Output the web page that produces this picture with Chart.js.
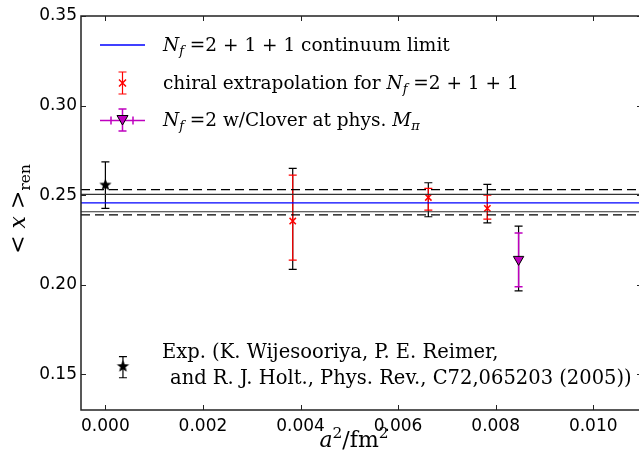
<!DOCTYPE html>
<html>
<head>
<meta charset="utf-8">
<script src="https://cdn.jsdelivr.net/npm/chart.js@4"></script>
<style>
  html, body { margin: 0; padding: 0; background: #fff; overflow: hidden; }
  #wrap { width: 650px; height: 468px; }
</style>
</head>
<body>
<div id="wrap"><canvas id="chart"></canvas></div>
<script>
// axis ticks
const xTicks = [0.000, 0.002, 0.004, 0.006, 0.008, 0.010];
const yTicks = [0.15, 0.20, 0.25, 0.30, 0.35];

// Nf=2+1+1 continuum limit band
const contCenter = 0.2456;
const contInner = [0.2504, 0.2407];
const contOuter = [0.2531, 0.2389];

// experiment (stars)
const expX = [0.0000, 0.00036];
const expY = [0.2556, 0.1543];
const expHi = [0.2686, 0.1598];
const expLo = [0.2426, 0.1480];

// chiral extrapolation for Nf=2+1+1
const chiralX = [0.00384, 0.00662, 0.00783];
const chiralY = [0.2355, 0.2487, 0.2426];
const chiralStatHi = [0.2612, 0.2537, 0.2500];
const chiralStatLo = [0.2137, 0.2416, 0.2366];
const chiralTotHi = [0.2649, 0.2569, 0.2560];
const chiralTotLo = [0.2085, 0.2379, 0.2345];

// Nf=2 w/Clover at phys. M_pi
const cloverX = [0.00847];
const cloverY = [0.2141];
const cloverStatHi = [0.2289];
const cloverStatLo = [0.1988];
const cloverTotHi = [0.2327];
const cloverTotLo = [0.1965];

const xMin = -0.0005, xMax = 0.011;
const yMin = 0.13, yMax = 0.35;

const SERIF = '"DejaVu Serif", "Liberation Serif", serif';
const SANS = '"DejaVu Sans", sans-serif';

// filled star marker
function makeStar(r) {
  const c = document.createElement('canvas');
  const s = Math.ceil(r * 2 + 2);
  c.width = s; c.height = s;
  const g = c.getContext('2d');
  g.beginPath();
  for (let i = 0; i < 10; i++) {
    const rad = i % 2 === 0 ? r : r * 0.42;
    const a = -Math.PI / 2 + i * Math.PI / 5;
    const px = s / 2 + rad * Math.cos(a), py = s / 2 + rad * Math.sin(a);
    if (i === 0) g.moveTo(px, py); else g.lineTo(px, py);
  }
  g.closePath();
  g.fillStyle = '#000';
  g.fill();
  return c;
}
const starImg = makeStar(6.5);

const pts = (xs, ys) => xs.map((x, i) => ({ x: x, y: ys[i] }));
const hline = (v) => [{ x: xMin, y: v }, { x: xMax, y: v }];

function drawRich(ctx, x, y, parts, size) {
  for (const p of parts) {
    const small = p.sub || p.sup;
    const fs = small ? size * 0.7 : size;
    ctx.font = (p.it ? 'italic ' : '') + fs + 'px ' + SERIF;
    const dy = p.sub ? size * 0.22 : (p.sup ? -size * 0.42 : 0);
    ctx.fillText(p.t, x, y + dy);
    x += ctx.measureText(p.t).width;
  }
  return x;
}
function richWidth(ctx, parts, size) {
  let w = 0;
  for (const p of parts) {
    const fs = (p.sub || p.sup) ? size * 0.7 : size;
    ctx.font = (p.it ? 'italic ' : '') + fs + 'px ' + SERIF;
    w += ctx.measureText(p.t).width;
  }
  return w;
}

function errBar(ctx, px, y1, y2, color, capW, lw) {
  ctx.strokeStyle = color;
  ctx.lineWidth = lw;
  ctx.beginPath();
  ctx.moveTo(px, y1); ctx.lineTo(px, y2);
  ctx.moveTo(px - capW, y1); ctx.lineTo(px + capW, y1);
  ctx.moveTo(px - capW, y2); ctx.lineTo(px + capW, y2);
  ctx.stroke();
}

function drawCross(ctx, x, y) {
  ctx.strokeStyle = '#ff0000';
  ctx.lineWidth = 1.5;
  ctx.beginPath();
  ctx.moveTo(x - 3.5, y - 3.5); ctx.lineTo(x + 3.5, y + 3.5);
  ctx.moveTo(x - 3.5, y + 3.5); ctx.lineTo(x + 3.5, y - 3.5);
  ctx.stroke();
}
function drawTri(ctx, x, y) {
  ctx.fillStyle = '#bf00bf';
  ctx.strokeStyle = '#000';
  ctx.lineWidth = 1;
  ctx.beginPath();
  ctx.moveTo(x - 5.5, y - 4.5); ctx.lineTo(x + 5.5, y - 4.5); ctx.lineTo(x, y + 5);
  ctx.closePath();
  ctx.fill(); ctx.stroke();
}

const extras = {
  id: 'extras',
  beforeDatasetsDraw(chart) {
    const ctx = chart.ctx, xs = chart.scales.x, ys = chart.scales.y;
    ctx.save();
    expX.forEach((x, i) => errBar(ctx, xs.getPixelForValue(x), ys.getPixelForValue(expHi[i]), ys.getPixelForValue(expLo[i]), '#000', 4, 1.2));
    chiralX.forEach((x, i) => {
      const px = xs.getPixelForValue(x);
      errBar(ctx, px, ys.getPixelForValue(chiralTotHi[i]), ys.getPixelForValue(chiralTotLo[i]), '#000', 4, 1.2);
      errBar(ctx, px, ys.getPixelForValue(chiralStatHi[i]), ys.getPixelForValue(chiralStatLo[i]), '#ff0000', 4, 1.2);
    });
    cloverX.forEach((x, i) => {
      const px = xs.getPixelForValue(x);
      errBar(ctx, px, ys.getPixelForValue(cloverTotHi[i]), ys.getPixelForValue(cloverTotLo[i]), '#000', 4, 1.2);
      errBar(ctx, px, ys.getPixelForValue(cloverStatHi[i]), ys.getPixelForValue(cloverStatLo[i]), '#bf00bf', 4, 1.5);
    });
    ctx.restore();
  },
  afterDraw(chart) {
    const ctx = chart.ctx, a = chart.chartArea, xs = chart.scales.x, ys = chart.scales.y;
    ctx.save();
    // frame
    ctx.strokeStyle = '#222';
    ctx.lineWidth = 1.5;
    ctx.strokeRect(a.left, a.top, a.right - a.left, a.bottom - a.top);
    // inward ticks on all sides
    ctx.lineWidth = 1;
    ctx.beginPath();
    xTicks.forEach(v => {
      const px = Math.round(xs.getPixelForValue(v)) + 0.5;
      ctx.moveTo(px, a.bottom); ctx.lineTo(px, a.bottom - 5);
      ctx.moveTo(px, a.top); ctx.lineTo(px, a.top + 5);
    });
    yTicks.forEach(v => {
      const py = Math.round(ys.getPixelForValue(v)) + 0.5;
      ctx.moveTo(a.left, py); ctx.lineTo(a.left + 5, py);
      ctx.moveTo(a.right, py); ctx.lineTo(a.right - 5, py);
    });
    ctx.stroke();

    // legend
    ctx.textBaseline = 'alphabetic';
    const fs = 18.5;
    ctx.strokeStyle = '#0000ff';
    ctx.lineWidth = 1.4;
    ctx.beginPath(); ctx.moveTo(100, 45); ctx.lineTo(145, 45); ctx.stroke();
    ctx.fillStyle = '#000';
    drawRich(ctx, 163, 51, [{ t: 'N', it: true }, { t: 'f', it: true, sub: true }, { t: ' =2 + 1 + 1 continuum limit' }], fs);

    errBar(ctx, 122.5, 72, 94, '#ff0000', 4, 1.2);
    drawCross(ctx, 122.5, 83);
    ctx.fillStyle = '#000';
    drawRich(ctx, 163, 89, [{ t: 'chiral extrapolation for ' }, { t: 'N', it: true }, { t: 'f', it: true, sub: true }, { t: ' =2 + 1 + 1' }], fs);

    ctx.strokeStyle = '#bf00bf';
    ctx.lineWidth = 1.5;
    ctx.beginPath(); ctx.moveTo(100, 120.5); ctx.lineTo(145, 120.5);
    ctx.moveTo(111, 116.5); ctx.lineTo(111, 124.5);
    ctx.moveTo(133, 116.5); ctx.lineTo(133, 124.5);
    ctx.stroke();
    errBar(ctx, 122.5, 109, 131, '#bf00bf', 4, 1.5);
    drawTri(ctx, 122.5, 120);
    ctx.fillStyle = '#000';
    drawRich(ctx, 163, 126, [{ t: 'N', it: true }, { t: 'f', it: true, sub: true }, { t: ' =2 w/Clover at phys. ' }, { t: 'M', it: true }, { t: 'π', it: true, sub: true }], fs);

    // experiment note
    drawRich(ctx, 162, 358, [{ t: 'Exp. (K. Wijesooriya, P. E. Reimer,' }], 19.5);
    drawRich(ctx, 170, 384, [{ t: 'and R. J. Holt., Phys. Rev., C72,065203 (2005))' }], 19.5);

    // x title
    const xParts = [{ t: 'a', it: true }, { t: '2', sup: true }, { t: '/fm' }, { t: '2', sup: true }];
    const xw = richWidth(ctx, xParts, 22);
    drawRich(ctx, 354 - xw / 2, 447, xParts, 22);

    // y title
    const yParts = [{ t: '< ' }, { t: 'x', it: true }, { t: ' >' }, { t: 'ren', sub: true }];
    const w = richWidth(ctx, yParts, 22);
    ctx.translate(25, 209);
    ctx.rotate(-Math.PI / 2);
    drawRich(ctx, -w / 2, 0, yParts, 22);
    ctx.restore();
  }
};

const canvas = document.getElementById('chart').getContext('2d');
new Chart(canvas, {
  type: 'scatter',
  data: {
    datasets: [
      { type: 'line', data: hline(contOuter[0]), borderColor: '#000', borderWidth: 1.2, borderDash: [9, 5], pointRadius: 0 },
      { type: 'line', data: hline(contOuter[1]), borderColor: '#000', borderWidth: 1.2, borderDash: [9, 5], pointRadius: 0 },
      { type: 'line', data: hline(contInner[0]), borderColor: '#333', borderWidth: 1.2, pointRadius: 0 },
      { type: 'line', data: hline(contInner[1]), borderColor: '#333', borderWidth: 1.2, pointRadius: 0 },
      { type: 'line', data: hline(contCenter), borderColor: '#0000ff', borderWidth: 1.2, pointRadius: 0 },
      { data: pts(expX, expY), pointStyle: starImg, pointRadius: 7 },
      { data: pts(chiralX, chiralY), pointStyle: 'crossRot', pointRadius: 4.5, borderColor: '#ff0000', borderWidth: 1.5 },
      { data: pts(cloverX, cloverY), pointStyle: 'triangle', rotation: 180, pointRadius: 6, backgroundColor: '#bf00bf', borderColor: '#000', borderWidth: 1 }
    ]
  },
  options: {
    responsive: true,
    maintainAspectRatio: false,
    animation: false,
    layout: { padding: { top: 16, right: 0, left: 0, bottom: 0 } },
    plugins: { legend: { display: false }, tooltip: { enabled: false } },
    scales: {
      x: {
        type: 'linear', min: xMin, max: xMax,
        grid: { display: false, drawTicks: false },
        border: { display: false },
        afterBuildTicks: (s) => { s.ticks = xTicks.map(v => ({ value: v })); },
        afterFit: (s) => { s.height = 58; s.paddingLeft = 0; s.paddingRight = 0; },
        ticks: { color: '#000', font: { family: SANS, size: 17 }, padding: 6, maxRotation: 0, callback: (v) => v.toFixed(3) }
      },
      y: {
        type: 'linear', min: yMin, max: yMax,
        grid: { display: false, drawTicks: false },
        border: { display: false },
        afterBuildTicks: (s) => { s.ticks = yTicks.map(v => ({ value: v })); },
        afterFit: (s) => { s.width = 81; s.paddingTop = 0; s.paddingBottom = 0; },
        ticks: { color: '#000', font: { family: SANS, size: 17 }, padding: 4, callback: (v) => v.toFixed(2) }
      }
    }
  },
  plugins: [extras]
});
</script>
</body>
</html>
